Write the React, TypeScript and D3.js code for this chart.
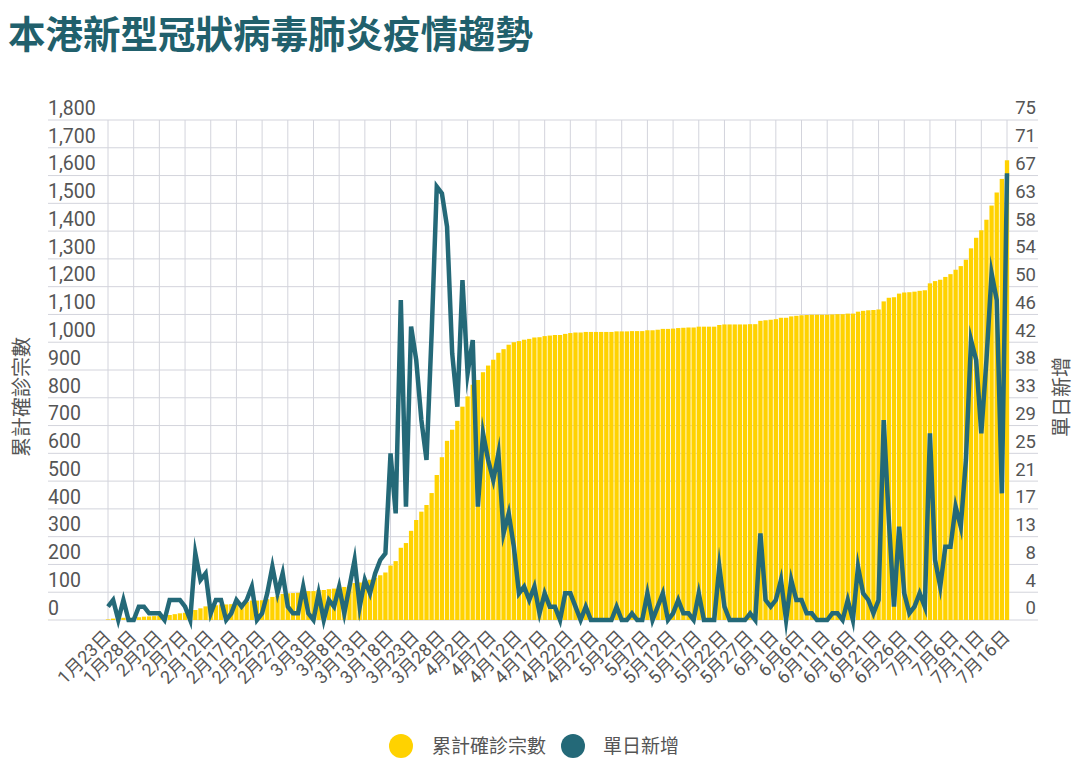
import React from "react";
import * as d3 from "d3";

const TITLE = "本港新型冠狀病毒肺炎疫情趨勢";
const LEFT_TITLE = "累計確診宗數";
const RIGHT_TITLE = "單日新增";

// Daily new cases, 1月23日 .. 7月16日 (176 days)
const dailyNew = [
  2, 3, 0, 3, 0, 0, 2, 2, 1, 1, 1, 0, 3, 3, 3, 2, 0, 10, 6, 7,
  1, 3, 3, 0, 1, 3, 2, 3, 5, 0, 1, 4, 8, 4, 7, 2, 1, 1, 5, 1,
  0, 4, 0, 3, 2, 5, 1, 5, 9, 2, 6, 4, 7, 9, 10, 25, 16, 48, 17, 44,
  39, 30, 24, 43, 65, 64, 59, 40, 32, 51, 37, 42, 17, 28, 24, 21, 25, 13, 16, 11,
  4, 5, 3, 5, 1, 4, 2, 2, 0, 4, 4, 2, 0, 2, 0, 0, 0, 0, 0, 2,
  0, 0, 1, 0, 0, 4, 0, 2, 4, 0, 1, 3, 1, 1, 0, 4, 0, 0, 0, 8,
  2, 0, 0, 0, 0, 1, 0, 13, 3, 2, 3, 6, 0, 6, 3, 3, 1, 1, 0, 0,
  0, 1, 1, 0, 3, 0, 8, 4, 3, 1, 3, 30, 15, 2, 14, 4, 1, 2, 4, 2,
  28, 9, 5, 11, 11, 17, 14, 24, 42, 39, 28, 39, 52, 48, 19, 67,
];

// Cumulative confirmed cases
const cumulative = [
  2, 5, 5, 8, 8, 8, 10, 12, 13, 14, 15, 15, 18, 21, 24, 26, 26, 36, 42, 49,
  50, 53, 56, 56, 57, 60, 62, 65, 70, 70, 71, 75, 83, 87, 94, 96, 97, 98, 103, 104,
  104, 108, 108, 111, 113, 118, 119, 124, 133, 135, 141, 145, 152, 161, 171, 196, 212, 260, 277, 321,
  360, 390, 414, 457, 522, 586, 645, 685, 717, 768, 805, 847, 864, 892, 916, 937, 962, 975, 991, 1000,
  1004, 1009, 1012, 1017, 1018, 1022, 1024, 1026, 1026, 1030, 1033, 1035, 1035, 1037, 1037, 1037, 1037, 1037, 1037, 1039,
  1039, 1039, 1040, 1040, 1040, 1043, 1043, 1045, 1048, 1048, 1049, 1051, 1052, 1053, 1053, 1056, 1056, 1056, 1056, 1062,
  1064, 1064, 1064, 1064, 1064, 1065, 1065, 1077, 1079, 1081, 1083, 1088, 1088, 1093, 1095, 1097, 1098, 1099, 1099, 1099,
  1099, 1100, 1101, 1101, 1103, 1103, 1110, 1113, 1115, 1116, 1118, 1147, 1160, 1162, 1175, 1179, 1180, 1182, 1185, 1187,
  1212, 1220, 1225, 1235, 1245, 1261, 1274, 1297, 1338, 1376, 1403, 1441, 1492, 1539, 1588, 1655,
];

const xTickLabels = [
  "1月23日", "1月28日", "2月2日", "2月7日", "2月12日", "2月17日", "2月22日", "2月27日",
  "3月3日", "3月8日", "3月13日", "3月18日", "3月23日", "3月28日", "4月2日", "4月7日",
  "4月12日", "4月17日", "4月22日", "4月27日", "5月2日", "5月7日", "5月12日", "5月17日",
  "5月22日", "5月27日", "6月1日", "6月6日", "6月11日", "6月16日", "6月21日", "6月26日",
  "7月1日", "7月6日", "7月11日", "7月16日",
];

const leftTicks = [0, 100, 200, 300, 400, 500, 600, 700, 800, 900, 1000, 1100, 1200, 1300, 1400, 1500, 1600, 1700, 1800];
const rightTickLabels = ["0", "4", "8", "13", "17", "21", "25", "29", "33", "38", "42", "46", "50", "54", "58", "63", "67", "71", "75"];

const YELLOW = "#FFD200";
const TEAL = "#246978";
const TEXT = "#555555";
const GRID = "#d3d4dc";
const FONT = "Roboto, 'Noto Sans CJK TC', sans-serif";

export default function App() {
  const W = 1080, H = 767;
  const N = dailyNew.length;
  const plotTop = 120, plotBottom = 620;
  const x = d3.scalePoint<number>().domain(d3.range(N)).range([108, 1007]);
  const yL = d3.scaleLinear().domain([0, 1800]).range([plotBottom, plotTop]);
  const yR = d3.scaleLinear().domain([0, 75]).range([plotBottom, plotTop]);
  const barW = x.step() * 0.84;

  const line = d3
    .line<number>()
    .x((_, i) => x(i) as number)
    .y((d) => yR(d));

  const tickIdx = xTickLabels.map((_, k) => k * 5);

  return (
    <div style={{ position: "absolute", left: 0, top: 0, width: W, height: H, background: "#fff" }}>
      <svg width={W} height={H} style={{ display: "block", fontFamily: FONT }}>
        <text x={8} y={48} fontSize={37.5} fontWeight={700} fill="#21606c" fontFamily="'Noto Sans CJK TC', sans-serif">
          {TITLE}
        </text>

        {leftTicks.map((t) => (
          <line key={"h" + t} x1={48} x2={1038} y1={yL(t)} y2={yL(t)} stroke={GRID} strokeWidth={1} />
        ))}
        {tickIdx.map((i) => (
          <line key={"v" + i} x1={x(i)} x2={x(i)} y1={plotTop} y2={plotBottom} stroke={GRID} strokeWidth={1} />
        ))}

        {cumulative.map((v, i) => (
          <rect
            key={"b" + i}
            x={(x(i) as number) - barW / 2}
            y={yL(v)}
            width={barW}
            height={plotBottom - yL(v)}
            fill={YELLOW}
          />
        ))}

        <path d={line(dailyNew) || ""} fill="none" stroke={TEAL} strokeWidth={4.5} strokeLinejoin="miter" strokeMiterlimit={10} />

        {leftTicks.map((t) => (
          <text key={"l" + t} x={48} y={yL(t) - 12} dy="0.35em" fontSize={19.5} fill={TEXT}>
            {d3.format(",")(t)}
          </text>
        ))}
        {rightTickLabels.map((s, k) => (
          <text key={"r" + k} x={1036} y={yL(leftTicks[k]) - 12} dy="0.35em" fontSize={18.5} fill={TEXT} textAnchor="end">
            {s}
          </text>
        ))}

        {tickIdx.map((i, k) => {
          const tx = (x(i) as number) + 4;
          const ty = 638;
          return (
            <text key={"x" + i} x={tx} y={ty} fontSize={18} fill={TEXT} textAnchor="end" transform={`rotate(-45 ${tx} ${ty})`}>
              {xTickLabels[k]}
            </text>
          );
        })}

        <text x={0} y={0} transform="translate(22 397) rotate(-90)" textAnchor="middle" dy="0.35em" fontSize={20} fill={TEXT}>
          {LEFT_TITLE}
        </text>
        <text x={0} y={0} transform="translate(1062 397) rotate(-90)" textAnchor="middle" dy="0.35em" fontSize={20} fill={TEXT}>
          {RIGHT_TITLE}
        </text>

        <circle cx={401} cy={746} r={12} fill={YELLOW} />
        <text x={432} y={746} dy="0.35em" fontSize={19} fill={TEXT}>{LEFT_TITLE}</text>
        <circle cx={573} cy={746} r={12} fill={TEAL} />
        <text x={603} y={746} dy="0.35em" fontSize={19} fill={TEXT}>{RIGHT_TITLE}</text>
      </svg>
    </div>
  );
}
